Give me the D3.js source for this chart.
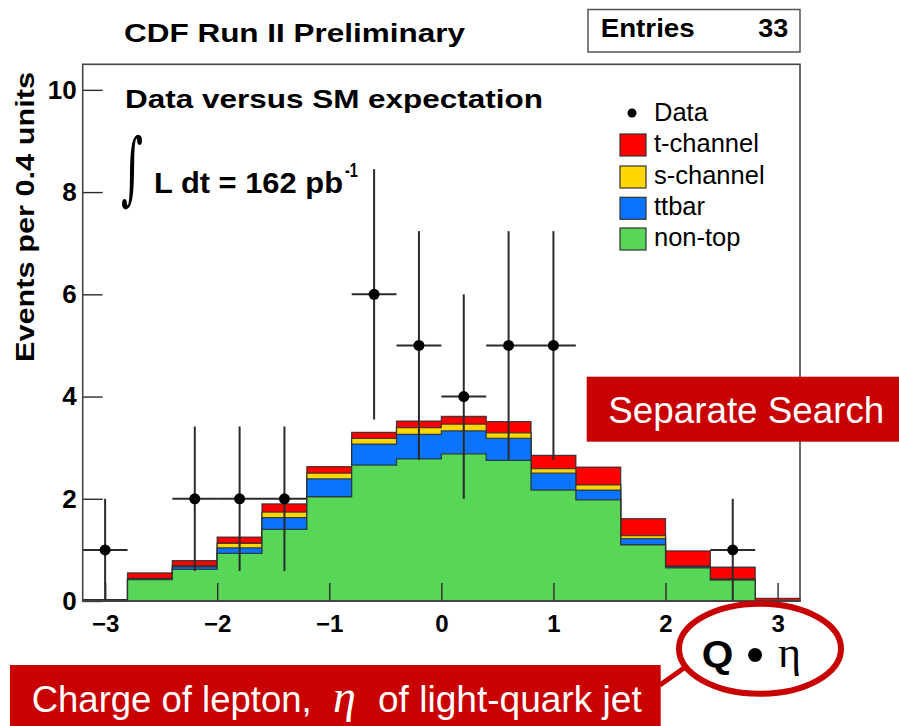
<!DOCTYPE html>
<html>
<head>
<meta charset="utf-8">
<script src="https://cdn.jsdelivr.net/npm/d3@7"></script>
<style>
  html, body { margin: 0; padding: 0; background: #fff; }
  svg { display: block; }
  text { font-family: "Liberation Sans", Arial, Helvetica, sans-serif; }
</style>
</head>
<body>
<svg id="chart" width="899" height="726"></svg>
<script>
// Q·η distribution, 16 bins of width 0.4 from -3.2 to 3.2
const binCenters = [-3.0, -2.6, -2.2, -1.8, -1.4, -1.0, -0.6, -0.2, 0.2, 0.6, 1.0, 1.4, 1.8, 2.2, 2.6, 3.0];
const binWidth = 0.4;

// Stacked expectation, bottom to top
const nonTop   = [0.02, 0.42, 0.62, 0.93, 1.40, 2.04, 2.66, 2.78, 2.88, 2.75, 2.17, 1.98, 1.10, 0.65, 0.41, 0.00];
const ttbar    = [0.00, 0.01, 0.05, 0.11, 0.23, 0.35, 0.41, 0.48, 0.45, 0.43, 0.33, 0.19, 0.12, 0.02, 0.01, 0.00];
const sChannel = [0.00, 0.01, 0.02, 0.09, 0.11, 0.11, 0.11, 0.13, 0.13, 0.11, 0.09, 0.10, 0.06, 0.01, 0.01, 0.00];
const tChannel = [0.00, 0.11, 0.10, 0.12, 0.16, 0.13, 0.12, 0.13, 0.15, 0.22, 0.26, 0.35, 0.33, 0.30, 0.23, 0.05];

// Observed events per bin
const dataCounts = [1, 0, 2, 2, 2, 0, 6, 5, 4, 5, 5, 0, 0, 0, 1, 0];

const xMajorTicks = [-3, -2, -1, 0, 1, 2, 3];
const yMajorTicks = [0, 2, 4, 6, 8, 10];

const layerNames  = ["non-top", "ttbar", "s-channel", "t-channel"];
const layerColors = ["#58d658", "#0a74ff", "#ffd700", "#ff0000"];
const legendNames = ["t-channel", "s-channel", "ttbar", "non-top"];
const legendColors = ["#ff0000", "#ffd700", "#0a74ff", "#58d658"];

const svg = d3.select("#chart");

const frame = { left: 82.7, right: 800, top: 64.3, bottom: 601 };
const x = d3.scaleLinear().domain([-3.2, 3.2]).range([frame.left, frame.right]);
const y = d3.scaleLinear().domain([0, 10.5]).range([frame.bottom, frame.top]);

svg.append("rect").attr("width", 899).attr("height", 726).attr("fill", "#fff");

// ---- stacked histogram ----
const layers = [nonTop, ttbar, sChannel, tChannel];
const cumulative = [];
let running = binCenters.map(() => 0);
layers.forEach(vals => {
  running = running.map((v, i) => v + vals[i]);
  cumulative.push(running.slice());
});

const stepArea = d3.area()
  .x(d => x(d.x))
  .y0(y(0))
  .y1(d => y(d.v));

function stepPoints(vals) {
  const pts = [];
  binCenters.forEach((c, i) => {
    pts.push({ x: c - binWidth / 2, v: vals[i] });
    pts.push({ x: c + binWidth / 2, v: vals[i] });
  });
  return pts;
}

const stack = svg.append("g").attr("class", "stack");
// draw from the top of the stack downwards so lower layers sit in front
for (let k = cumulative.length - 1; k >= 0; k--) {
  stack.append("path")
    .attr("d", stepArea(stepPoints(cumulative[k])))
    .attr("fill", layerColors[k])
    .attr("stroke", "#2b2b2b")
    .attr("stroke-opacity", 0.85)
    .attr("stroke-width", 1.3)
    .attr("stroke-linejoin", "miter");
}

// ---- axes (ticks point into the frame) ----
const xMinor = d3.range(-16, 17).map(i => +(i * 0.2).toFixed(1)).filter(v => !xMajorTicks.includes(v));
const yMinor = d3.range(0, 22).map(i => i * 0.5).filter(v => !yMajorTicks.includes(v));

const gx = svg.append("g").attr("transform", `translate(0,${frame.bottom})`);
gx.call(d3.axisBottom(x).tickValues(xMinor).tickSize(-9).tickFormat(""));
gx.call(d3.axisBottom(x).tickValues(xMajorTicks).tickSize(-18).tickPadding(14).tickFormat(d3.format("d")));
gx.selectAll(".domain").remove();
gx.selectAll("line").attr("stroke", "#2a2a2a").attr("stroke-width", 1.4);
gx.selectAll("text")
  .attr("font-size", 24).attr("font-weight", "bold").attr("fill", "#000")
  .style("font-family", "'Liberation Sans', Arial, sans-serif");

const gy = svg.append("g").attr("transform", `translate(${frame.left},0)`);
gy.call(d3.axisLeft(y).tickValues(yMinor).tickSize(-10).tickFormat(""));
gy.call(d3.axisLeft(y).tickValues(yMajorTicks).tickSize(-20).tickPadding(6).tickFormat(d3.format("d")));
gy.selectAll(".domain").remove();
gy.selectAll("line").attr("stroke", "#2a2a2a").attr("stroke-width", 1.4);
gy.selectAll("text")
  .attr("font-size", 26).attr("font-weight", "bold").attr("fill", "#000")
  .style("font-family", "'Liberation Sans', Arial, sans-serif");

// ---- data points with sqrt(N) errors ----
const pts = binCenters.map((c, i) => ({ c, n: dataCounts[i] })).filter(d => d.n > 0);
const gd = svg.append("g").attr("class", "data");
gd.selectAll("line.ev").data(pts).join("line")
  .attr("x1", d => x(d.c)).attr("x2", d => x(d.c))
  .attr("y1", d => y(Math.max(0, d.n - Math.sqrt(d.n))))
  .attr("y2", d => y(d.n + Math.sqrt(d.n)))
  .attr("stroke", "#2a2a2a").attr("stroke-width", 2);
gd.selectAll("line.eh").data(pts).join("line")
  .attr("x1", d => x(d.c - binWidth / 2)).attr("x2", d => x(d.c + binWidth / 2))
  .attr("y1", d => y(d.n)).attr("y2", d => y(d.n))
  .attr("stroke", "#2a2a2a").attr("stroke-width", 2);
gd.selectAll("circle").data(pts).join("circle")
  .attr("cx", d => x(d.c)).attr("cy", d => y(d.n)).attr("r", 5.5)
  .attr("fill", "#000");

// ---- frame ----
svg.append("rect")
  .attr("x", frame.left).attr("y", frame.top)
  .attr("width", frame.right - frame.left).attr("height", frame.bottom - frame.top)
  .attr("fill", "none").attr("stroke", "#4d4242").attr("stroke-width", 1.6);

// ---- stretched text helper ----
function label(txt, xp, yp, size, opts = {}) {
  const t = svg.append("text")
    .attr("x", xp).attr("y", yp)
    .attr("font-size", size)
    .attr("font-weight", opts.weight || "bold")
    .attr("fill", opts.fill || "#000")
    .attr("text-anchor", opts.anchor || "start")
    .text(txt);
  if (opts.family) t.style("font-family", opts.family);
  if (opts.len) t.attr("textLength", opts.len).attr("lengthAdjust", "spacingAndGlyphs");
  if (opts.transform) t.attr("transform", opts.transform);
  return t;
}

label("CDF Run II Preliminary", 124, 41.7, 26.5, { len: 341 });

// statistics box
svg.append("rect").attr("x", 588).attr("y", 9.5).attr("width", 212).attr("height", 42.5)
  .attr("fill", "#fff").attr("stroke", "#555").attr("stroke-width", 1.5);
label("Entries", 600.7, 37.3, 26, { len: 94 });
label("33", 788.3, 37.3, 26, { anchor: "end", len: 30 });

label("Data versus SM expectation", 125, 108.3, 25, { len: 418 });

// luminosity
label("\u222B", 121, 195, 80, { weight: "normal", family: "'DejaVu Serif', 'Liberation Serif', serif", len: 22 });
label("L dt = 162 pb", 154, 193, 29, { len: 189 });
label("-1", 345, 176.7, 20, { len: 13 });

// y-axis title
label("Events per 0.4 units", 0, 0, 26, {
  anchor: "middle", len: 290, transform: "translate(33.5,217) rotate(-90)"
});

// ---- legend ----
const leg = svg.append("g").attr("class", "legend");
leg.append("circle").attr("cx", 632).attr("cy", 113).attr("r", 4.5).attr("fill", "#000");
leg.append("text").attr("x", 654).attr("y", 120.7).attr("font-size", 25.5).text("Data");
const rowY = [134, 166, 197.3, 228];
legendNames.forEach((name, i) => {
  leg.append("rect").attr("x", 620).attr("y", rowY[i]).attr("width", 26).attr("height", 22)
    .attr("fill", legendColors[i]).attr("stroke", "#333").attr("stroke-width", 1.2);
  leg.append("text").attr("x", 654).attr("y", rowY[i] + 17.5).attr("font-size", 25.5).text(name);
});

// ---- callouts ----
const calloutRed = "#c80000";
svg.append("rect").attr("x", 586.7).attr("y", 376.7).attr("width", 312.3).attr("height", 65)
  .attr("fill", calloutRed);
label("Separate Search", 608.3, 422.7, 37, { weight: "normal", fill: "#fff", len: 276 });

svg.append("rect").attr("x", 10).attr("y", 665).attr("width", 650.7).attr("height", 61)
  .attr("fill", calloutRed);
const cap = svg.append("text").attr("y", 711.7).attr("font-size", 36.5).attr("fill", "#fff");
cap.append("tspan").attr("x", 31.7).attr("textLength", 280).attr("lengthAdjust", "spacingAndGlyphs")
  .text("Charge of lepton,");
cap.append("tspan").attr("x", 333).style("font-family", "'Liberation Serif', 'DejaVu Serif', serif")
  .attr("font-style", "italic").attr("font-size", 46).text("\u03B7");
cap.append("tspan").attr("x", 378).attr("textLength", 263.7).attr("lengthAdjust", "spacingAndGlyphs")
  .text("of light-quark jet");

svg.append("line").attr("x1", 660).attr("y1", 685).attr("x2", 684).attr("y2", 668)
  .attr("stroke", calloutRed).attr("stroke-width", 5);
svg.append("ellipse").attr("cx", 760).attr("cy", 648.7).attr("rx", 81).attr("ry", 45)
  .attr("fill", "none").attr("stroke", calloutRed).attr("stroke-width", 6);

// x-axis title
const xt = svg.append("text").attr("y", 666.7).attr("fill", "#000");
xt.append("tspan").attr("x", 701.7).attr("font-size", 37).attr("font-weight", "bold")
  .attr("textLength", 31.6).attr("lengthAdjust", "spacingAndGlyphs").text("Q");
xt.append("tspan").attr("x", 755).attr("y", 672).attr("text-anchor", "middle").attr("font-size", 52).text("\u2022");
xt.append("tspan").attr("x", 778).attr("y", 666.7).attr("font-size", 44)
  .style("font-family", "'Liberation Serif', 'DejaVu Serif', serif").text("\u03B7");
</script>
</body>
</html>
